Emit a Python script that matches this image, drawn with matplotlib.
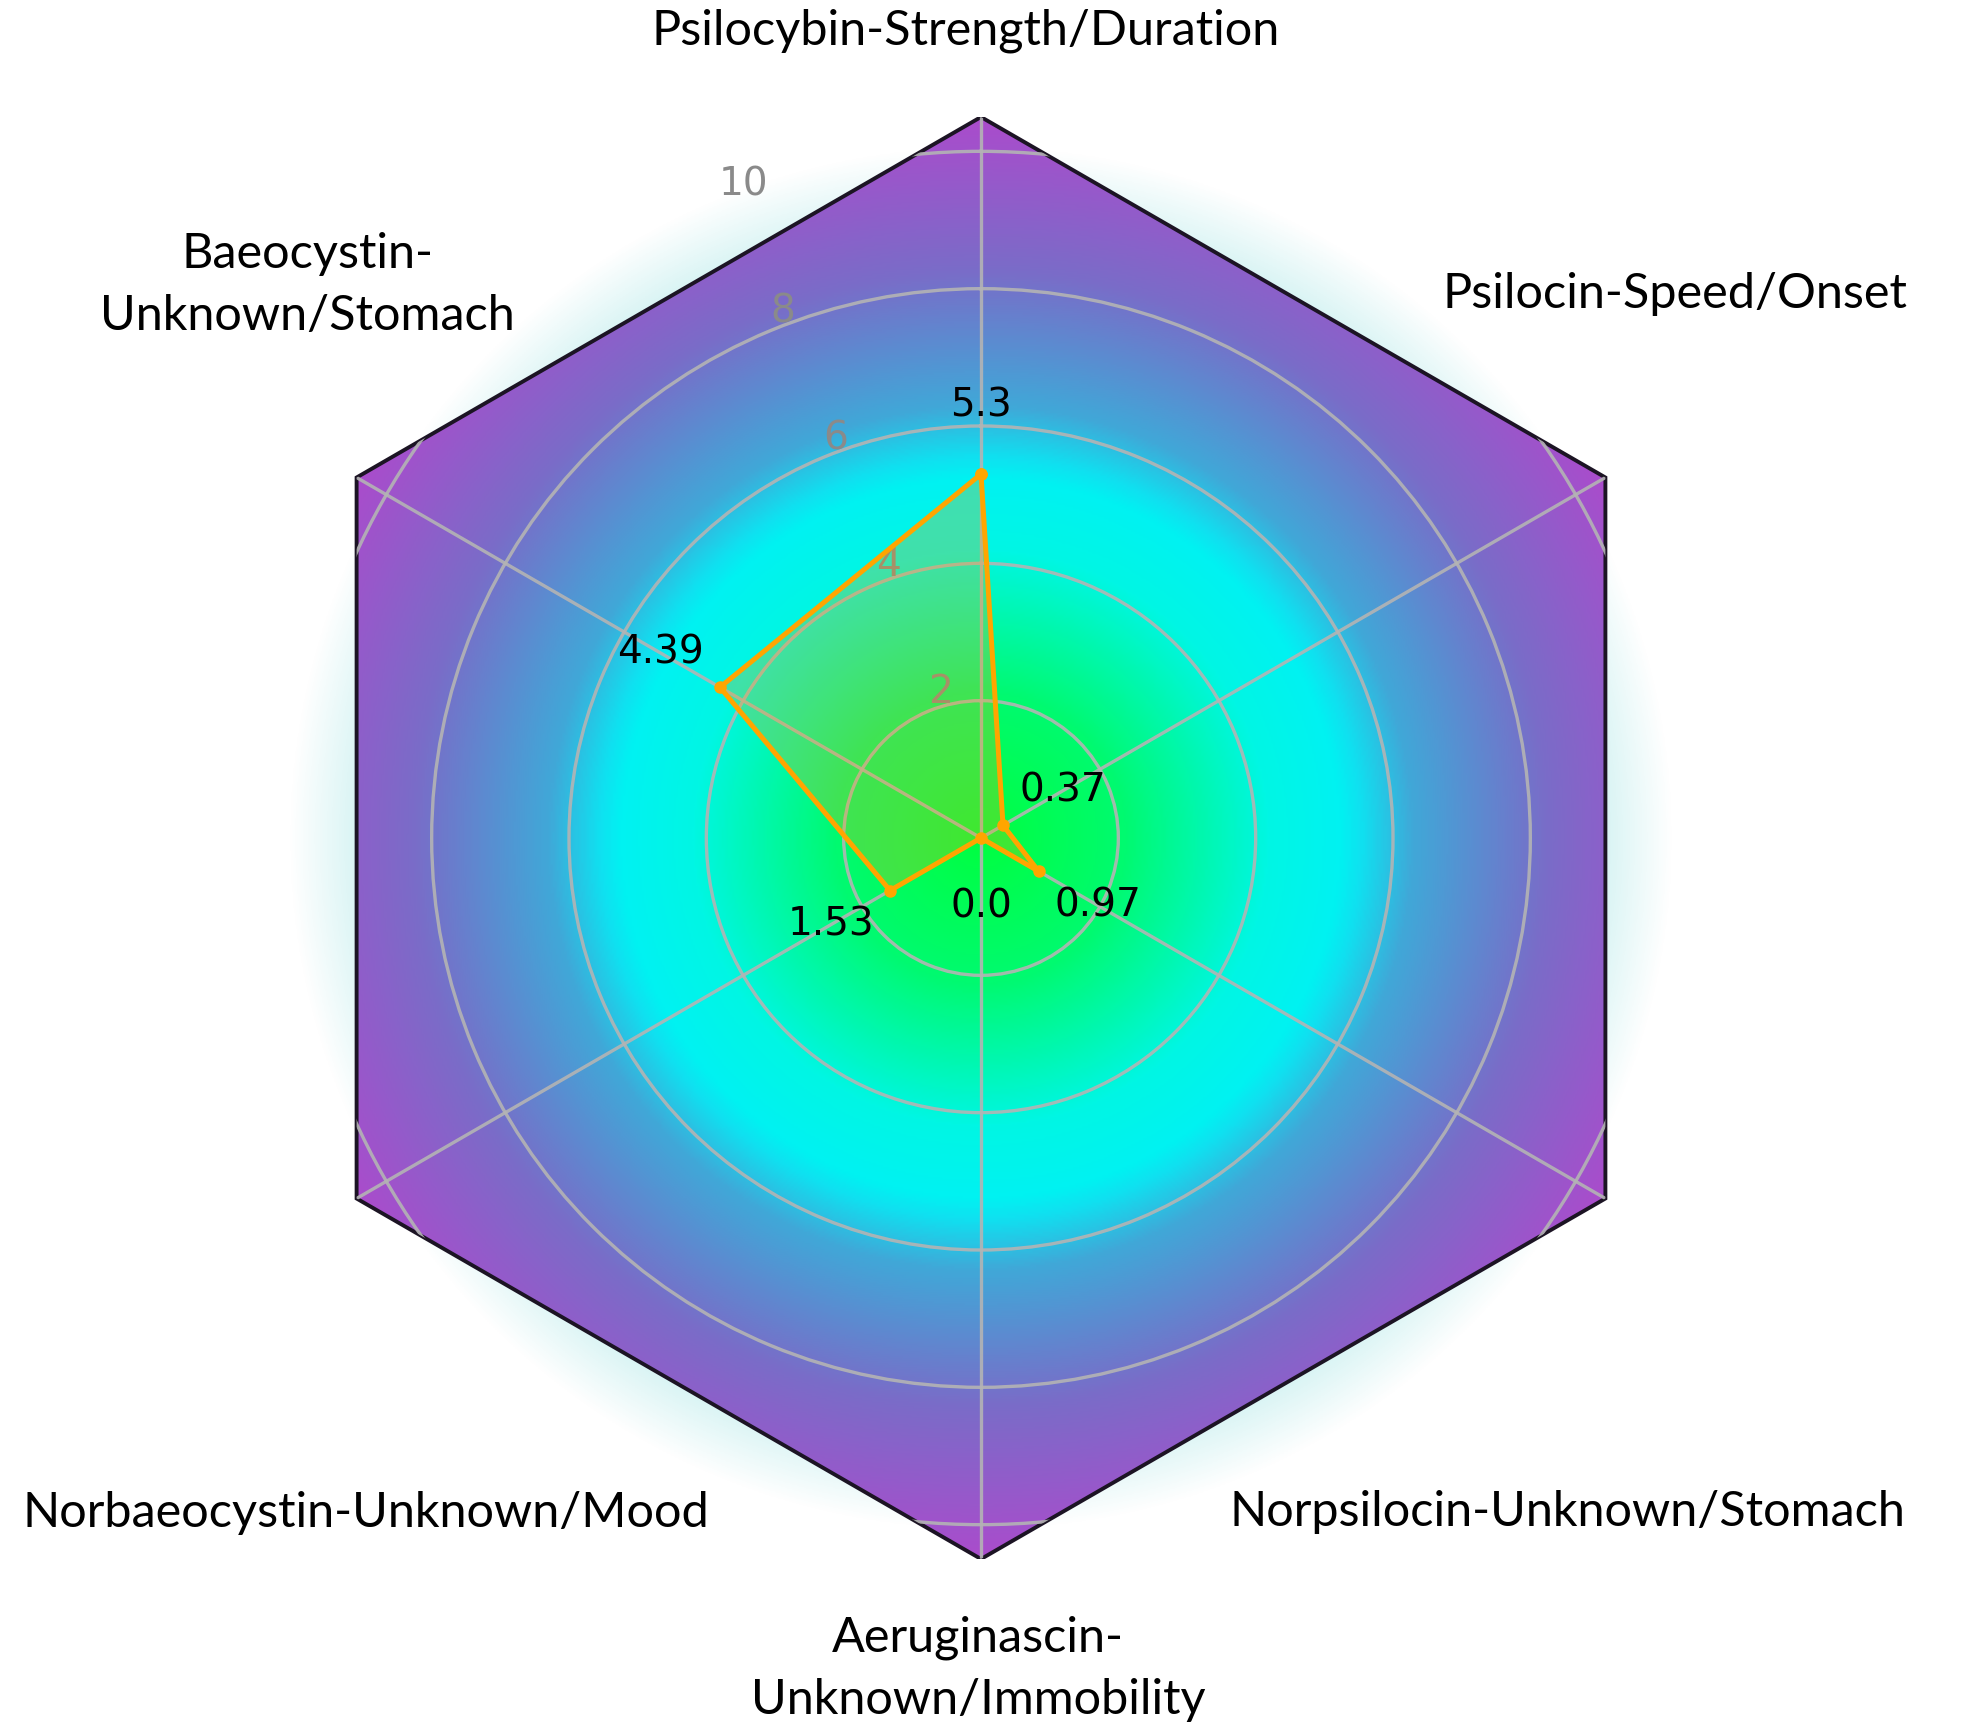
import numpy as np
import matplotlib
matplotlib.use("Agg")
import matplotlib.pyplot as plt
from matplotlib.colors import LinearSegmentedColormap
from matplotlib.patches import Polygon

# data
categories = ["Psilocybin-Strength/Duration", "Psilocin-Speed/Onset",
              "Norpsilocin-Unknown/Stomach", "Aeruginascin-\nUnknown/Immobility",
              "Norbaeocystin-Unknown/Mood", "Baeocystin-\nUnknown/Stomach"]
values = [5.3, 0.37, 0.97, 0.0, 1.53, 4.39]
rticks = [2, 4, 6, 8, 10]
rmax = 10.5

# label offsets from the hexagon corners (pixels)
label_offsets = [(-15, 86), (70, 183), (-38, -314), (-3, -110), (9, -314), (-49, 192)]

n = len(categories)
angles = np.arange(n) * 2 * np.pi / n

fig = plt.figure(figsize=(19.67, 17.25), dpi=100)
rect = [260 / 1967, 166 / 1725, 1442 / 1967, 1442 / 1725]

# background: glow + radial gradient clipped to hexagon
bg = fig.add_axes(rect)
bg.set_xlim(-rmax, rmax)
bg.set_ylim(-rmax, rmax)
bg.axis("off")

hx = rmax * np.sin(angles)
hy = rmax * np.cos(angles)
hexpatch = Polygon(np.column_stack([hx, hy]), closed=True, transform=bg.transData)

xs = np.linspace(-rmax, rmax, 700)
X, Y = np.meshgrid(xs, xs)
R = np.hypot(X, Y)

glow = np.zeros(R.shape + (4,))
glow[..., 1] = 0.72
glow[..., 2] = 0.72
glow[..., 3] = 0.17 * np.clip((10.1 - R) / 1.1, 0, 1)
bg.imshow(glow, extent=[-rmax, rmax, -rmax, rmax], origin="lower", zorder=0)

cmap = LinearSegmentedColormap.from_list("shroom", [
    (0.0, "#00ff40"), (0.2, "#00fa70"), (0.4, "#00f6e4"), (0.5, "#00f2f2"),
    (0.53, "#10e0f0"), (0.6, "#40a8d8"), (0.79, "#7a6cc8"), (1.0, "#aa4ccc")])
grad = bg.imshow(R / rmax, cmap=cmap, vmin=0, vmax=1, extent=[-rmax, rmax, -rmax, rmax],
                 origin="lower", interpolation="bilinear", zorder=1)
grad.set_clip_path(hexpatch)

bg.add_patch(Polygon(np.column_stack([hx, hy]), closed=True, fill=False,
                     edgecolor="#1c1424", linewidth=2.8, zorder=3))

# radar
ax = fig.add_axes(rect, projection="polar")
ax.set_theta_offset(np.pi / 2)
ax.set_theta_direction(-1)
ax.patch.set_visible(False)
ax.spines["polar"].set_visible(False)
ax.set_ylim(0, rmax)
ax.set_yticks(rticks)
ax.set_yticklabels([str(t) for t in rticks], color="#8a8a8a", fontsize=28)
ax.set_rlabel_position(-22.5)
ax.set_xticks(angles)
ax.set_xticklabels([])
ax.tick_params(pad=0)
ax.grid(True, color="#b4b4b4", linewidth=2.4, alpha=0.9)
for gl in ax.yaxis.get_gridlines() + ax.xaxis.get_gridlines():
    gl.set_clip_path(hexpatch)

closed_a = np.append(angles, angles[0])
closed_v = np.append(values, values[0])
ax.fill(closed_a, closed_v, color="orange", alpha=0.25, zorder=4)
ax.plot(closed_a, closed_v, color="orange", linewidth=3.6, marker="o", markersize=8, zorder=5)

for a, v in zip(angles, values):
    ax.text(a, v + 1, str(v), ha="center", va="center", fontsize=28, color="black", zorder=6)

for a, lab, off in zip(angles, categories, label_offsets):
    ax.annotate(lab, xy=(a, rmax), xytext=off, textcoords="offset pixels",
                ha="center", va="center", fontsize=35, family="Lato",
                linespacing=1.5, annotation_clip=False)

fig.savefig("out.png", dpi=100)
